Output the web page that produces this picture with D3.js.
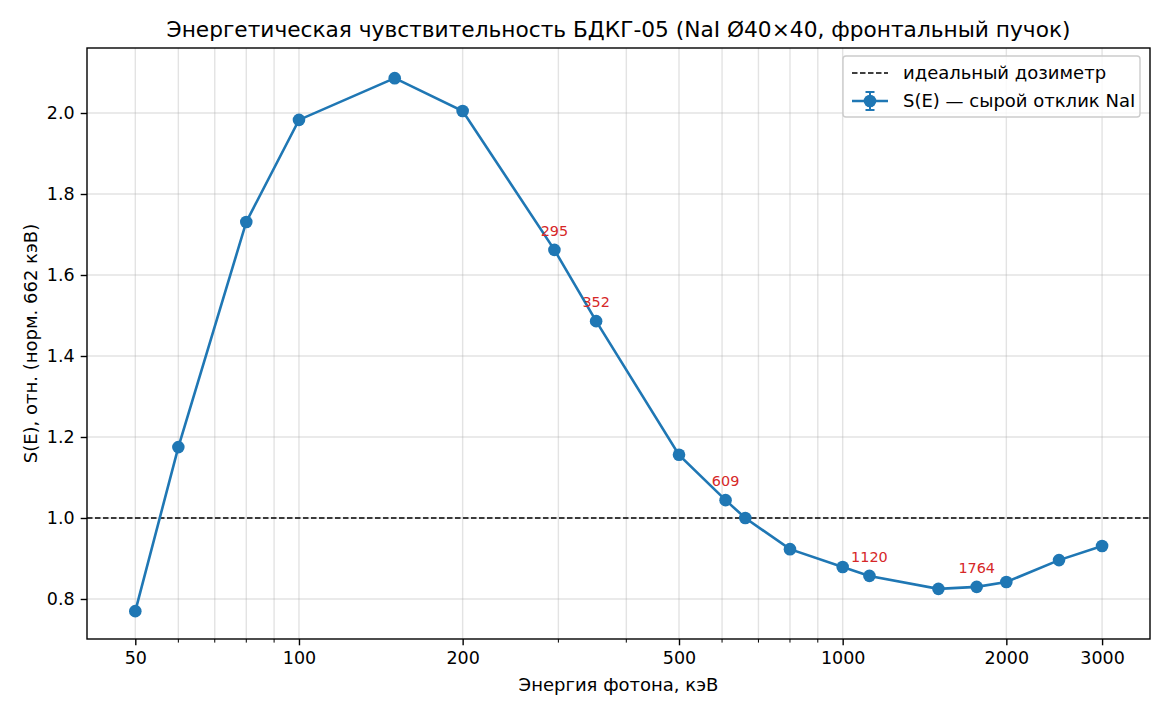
<!DOCTYPE html>
<html>
<head>
<meta charset="utf-8">
<script src="https://cdn.jsdelivr.net/npm/d3@7"></script>
<style>
  body { margin: 0; background: #fff; }
  text { font-family: "DejaVu Sans", sans-serif; }
</style>
</head>
<body>
<div id="chart"></div>
<script>
// data
var energies = [50, 60, 80, 100, 150, 200, 295, 352, 500, 609, 662, 800, 1000, 1120, 1500, 1764, 2000, 2500, 3000];
var response = [0.770, 1.175, 1.731, 1.983, 2.086, 2.005, 1.662, 1.486, 1.156, 1.044, 1.000, 0.923, 0.879, 0.857, 0.825, 0.830, 0.842, 0.896, 0.931];
var labelled = [295, 352, 609, 1120, 1764];
var xTicks = [50, 100, 200, 500, 1000, 2000, 3000];
var xMinor = [60, 70, 80, 90, 300, 400, 600, 700, 800, 900];
var yTicks = [0.8, 1.0, 1.2, 1.4, 1.6, 1.8, 2.0];

var W = 1170, H = 715;
var margin = { top: 48, right: 20, bottom: 76, left: 87 },
    width = W - margin.left - margin.right,
    height = H - margin.top - margin.bottom;

var svg = d3.select("#chart").append("svg")
    .attr("width", W)
    .attr("height", H);

var g = svg.append("g")
    .attr("transform", "translate(" + margin.left + "," + margin.top + ")");

var x = d3.scaleLog().domain([40.75, 3675]).range([0, width]);
var y = d3.scaleLinear().domain([0.7012, 2.1605]).range([height, 0]);

var pts = energies.map(function (e, i) { return { e: e, v: response[i] }; });

// grid
g.append("g").selectAll("line")
    .data(xTicks.concat(xMinor))
    .enter().append("line")
    .attr("x1", function (d) { return x(d); })
    .attr("x2", function (d) { return x(d); })
    .attr("y1", 0).attr("y2", height)
    .attr("stroke", "#b0b0b0").attr("stroke-opacity", 0.35).attr("stroke-width", 1.4);
g.append("g").selectAll("line")
    .data(yTicks)
    .enter().append("line")
    .attr("x1", 0).attr("x2", width)
    .attr("y1", function (d) { return y(d); })
    .attr("y2", function (d) { return y(d); })
    .attr("stroke", "#b0b0b0").attr("stroke-opacity", 0.35).attr("stroke-width", 1.4);

// ideal dosimeter line
g.append("line")
    .attr("x1", 0).attr("x2", width)
    .attr("y1", y(1)).attr("y2", y(1))
    .attr("stroke", "#000").attr("stroke-width", 1.5)
    .attr("stroke-dasharray", "5.5,2.5");

// response curve
g.append("path")
    .datum(pts)
    .attr("fill", "none")
    .attr("stroke", "#1f77b4")
    .attr("stroke-width", 2.6)
    .attr("d", d3.line()
        .x(function (d) { return x(d.e); })
        .y(function (d) { return y(d.v); }));

g.selectAll("circle.pt")
    .data(pts)
    .enter().append("circle")
    .attr("class", "pt")
    .attr("cx", function (d) { return x(d.e); })
    .attr("cy", function (d) { return y(d.v); })
    .attr("r", 6.3)
    .attr("fill", "#1f77b4");

// annotations
g.selectAll("text.ann")
    .data(pts.filter(function (d) { return labelled.indexOf(d.e) >= 0; }))
    .enter().append("text")
    .attr("class", "ann")
    .attr("x", function (d) { return x(d.e); })
    .attr("y", function (d) { return y(d.v) - 14; })
    .attr("text-anchor", "middle")
    .attr("fill", "#d62728")
    .style("font-size", "14.4px")
    .text(function (d) { return d.e; });

// axes
var xAxis = g.append("g")
    .attr("transform", "translate(0," + height + ")")
    .call(d3.axisBottom(x).tickValues(xTicks).tickFormat(d3.format("d")).tickSize(6.3).tickPadding(6));
xAxis.append("g").selectAll("line")
    .data(xMinor)
    .enter().append("line")
    .attr("x1", function (d) { return x(d); })
    .attr("x2", function (d) { return x(d); })
    .attr("y1", 0).attr("y2", 3.6)
    .attr("stroke", "#000").attr("stroke-width", 1);

var yAxis = g.append("g")
    .call(d3.axisLeft(y).tickValues(yTicks).tickFormat(d3.format(".1f")).tickSize(6.3).tickPadding(6));

[xAxis, yAxis].forEach(function (a) {
    a.select(".domain").remove();
    a.selectAll(".tick line").attr("stroke", "#000").attr("stroke-width", 1.4);
    a.selectAll(".tick text").style("font-size", "17.5px").attr("fill", "#000")
        .style("font-family", "DejaVu Sans, sans-serif");
});

// frame
g.append("rect")
    .attr("width", width).attr("height", height)
    .attr("fill", "none").attr("stroke", "#000").attr("stroke-width", 1.4);

// titles
svg.append("text")
    .attr("x", margin.left + width / 2).attr("y", 37)
    .attr("text-anchor", "middle")
    .style("font-size", "21.7px")
    .text("Энергетическая чувствительность БДКГ-05 (NaI Ø40×40, фронтальный пучок)");

svg.append("text")
    .attr("x", margin.left + width / 2).attr("y", 691)
    .attr("text-anchor", "middle")
    .style("font-size", "18px")
    .text("Энергия фотона, кэВ");

svg.append("text")
    .attr("transform", "translate(37," + (margin.top + height / 2) + ") rotate(-90)")
    .attr("text-anchor", "middle")
    .style("font-size", "18px")
    .text("S(E), отн. (норм. 662 кэВ)");

// legend
var lg = g.append("g").attr("transform", "translate(" + (width - 307) + ",8)");
lg.append("rect")
    .attr("width", 297).attr("height", 61).attr("rx", 3)
    .attr("fill", "#fff").attr("fill-opacity", 0.8)
    .attr("stroke", "#cccccc").attr("stroke-width", 1.4);
lg.append("line")
    .attr("x1", 9).attr("x2", 45).attr("y1", 17).attr("y2", 17)
    .attr("stroke", "#000").attr("stroke-width", 1.5).attr("stroke-dasharray", "5.5,2.5");
lg.append("text").attr("x", 60).attr("y", 23).style("font-size", "18px").text("идеальный дозиметр");
lg.append("line")
    .attr("x1", 9).attr("x2", 45).attr("y1", 45).attr("y2", 45)
    .attr("stroke", "#1f77b4").attr("stroke-width", 2.6);
lg.append("line")
    .attr("x1", 27).attr("x2", 27).attr("y1", 36).attr("y2", 54)
    .attr("stroke", "#1f77b4").attr("stroke-width", 2);
lg.append("line")
    .attr("x1", 22.5).attr("x2", 31.5).attr("y1", 36).attr("y2", 36)
    .attr("stroke", "#1f77b4").attr("stroke-width", 2);
lg.append("line")
    .attr("x1", 22.5).attr("x2", 31.5).attr("y1", 54).attr("y2", 54)
    .attr("stroke", "#1f77b4").attr("stroke-width", 2);
lg.append("circle").attr("cx", 27).attr("cy", 45).attr("r", 6.3).attr("fill", "#1f77b4");
lg.append("text").attr("x", 60).attr("y", 51).style("font-size", "18px").text("S(E) — сырой отклик NaI");
</script>
</body>
</html>
